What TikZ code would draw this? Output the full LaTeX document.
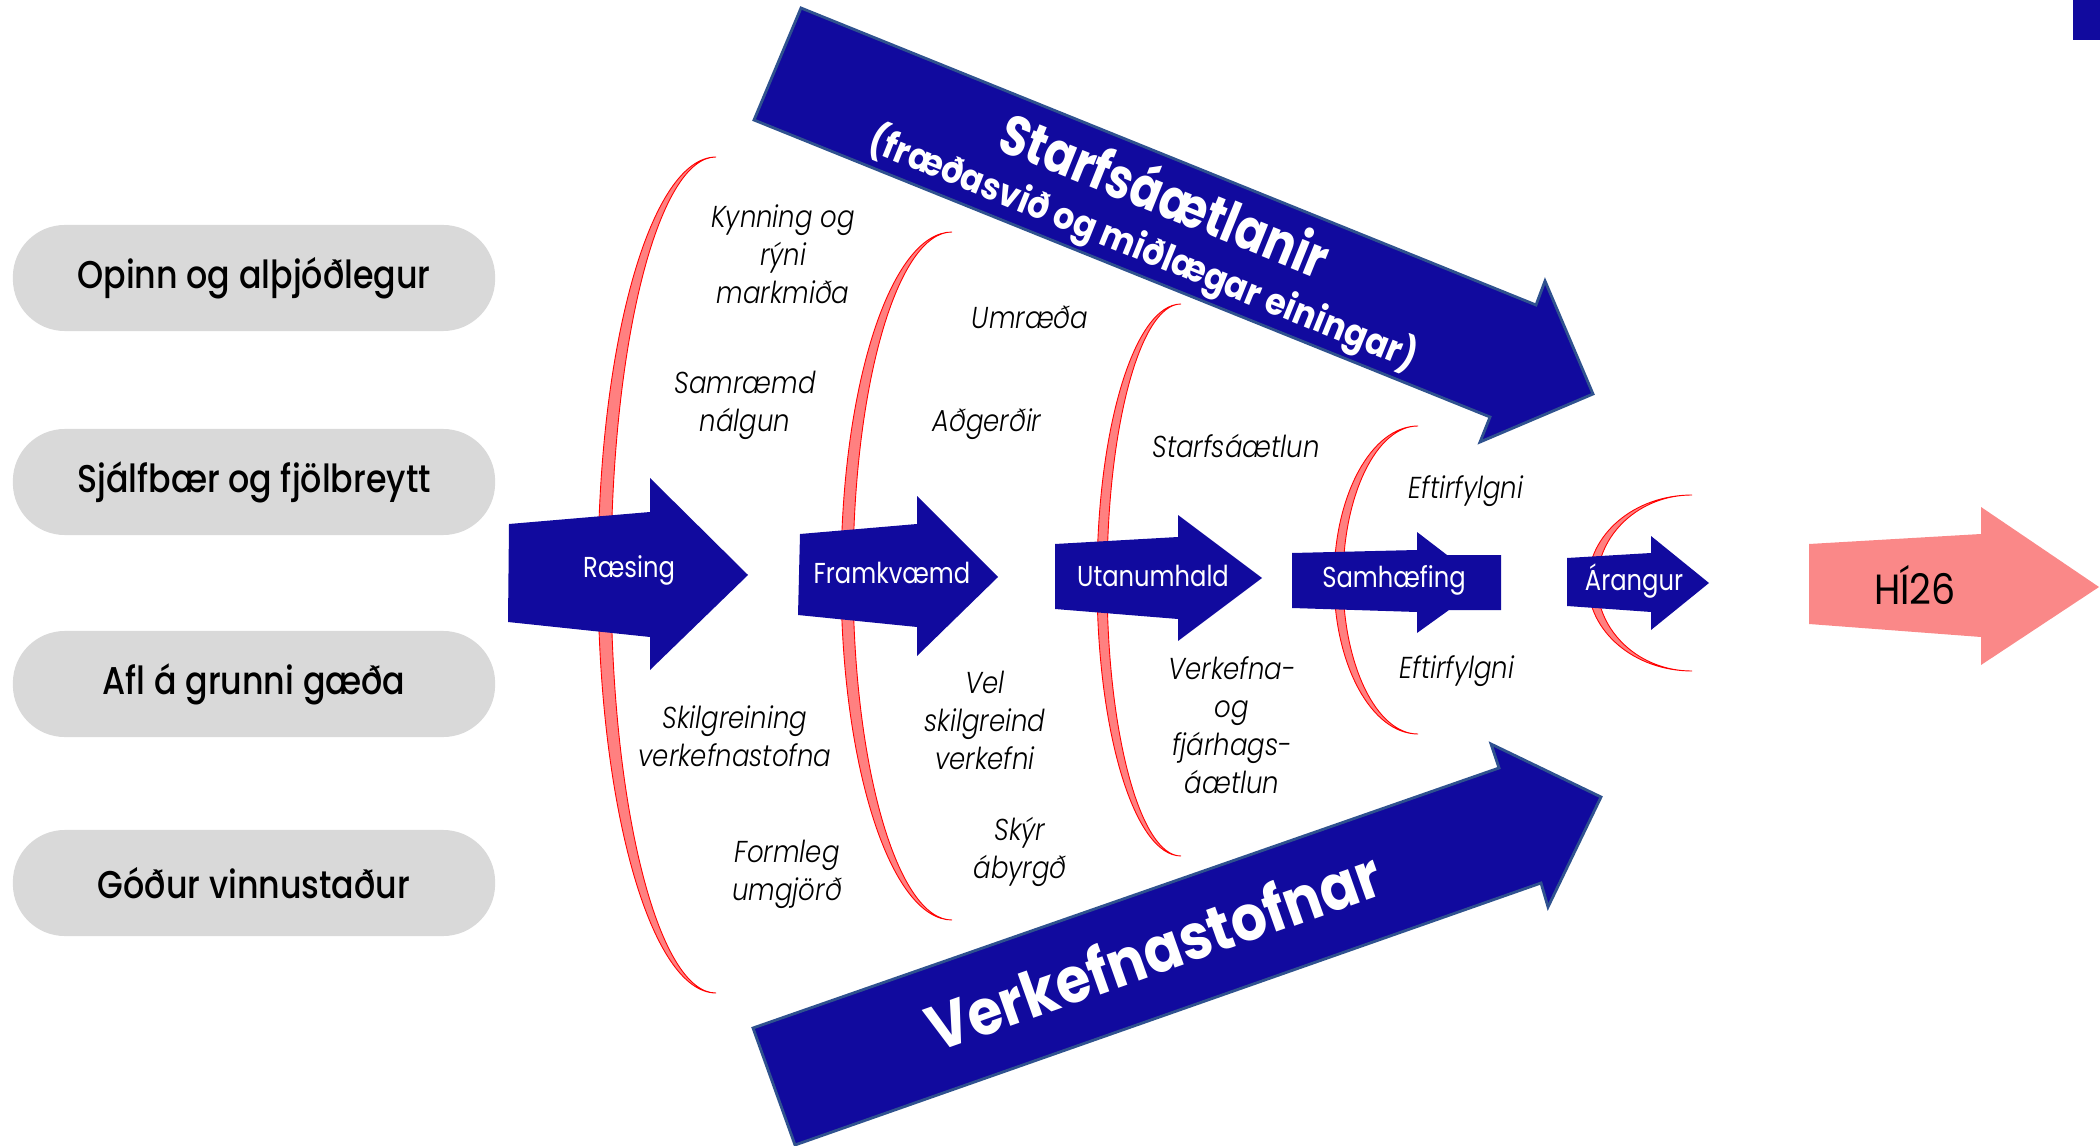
\documentclass[tikz,border=0pt]{standalone}
\usepackage{fontspec}
\setmainfont{Poppins}
\newfontfamily\pillfont{Poppins Medium}[FakeStretch=0.86]
\newfontfamily\lblfont{Poppins Light Italic}[FakeStretch=0.86]
\newfontfamily\stepfont{Poppins}[FakeStretch=0.84]
\newfontfamily\goalfont{Poppins}[FakeStretch=0.9]
\newfontfamily\bannerfont{Poppins Bold}[FakeStretch=0.82]
\newfontfamily\subbannerfont{Poppins Bold}[FakeStretch=0.9]
\newfontfamily\instfont{Poppins Bold}[FakeStretch=0.89]

\definecolor{hiblue}{RGB}{17,10,158}
\definecolor{edgeblue}{RGB}{47,82,143}
\definecolor{pinkfill}{RGB}{250,136,136}
\definecolor{bracketpink}{RGB}{255,128,128}
\definecolor{pillgray}{RGB}{217,217,217}

\tikzstyle{pill} = [rectangle, fill=pillgray, rounded corners=0.52cm,
    minimum width=4.82cm, minimum height=1.06cm, font=\pillfont\fontsize{11}{13}\selectfont]
\tikzstyle{steplbl} = [text=white, font=\stepfont\fontsize{8.2}{10}\selectfont]
\tikzstyle{lbl} = [align=center, font=\lblfont\fontsize{8.6}{10.8}\selectfont]
\tikzstyle{crescent} = [fill=bracketpink, draw=red, line width=0.25pt]
\tikzstyle{bigarrow} = [fill=hiblue, draw=edgeblue, line width=0.8pt]
\tikzstyle{chevron} = [fill=hiblue]
\tikzstyle{banner} = [text=white, font=\bannerfont\fontsize{16}{18}\selectfont]
\tikzstyle{subbanner} = [text=white, font=\subbannerfont\fontsize{10.5}{12}\selectfont]

% pink bracket: centre x, centre y, half height, outer and inner width
\newcommand{\bracketarc}[5]{%
  \draw[crescent] (#1,#2-#3) arc[start angle=-90, end angle=-270, x radius=#4, y radius=#3]
    arc[start angle=90, end angle=270, x radius=#5, y radius=#3] -- cycle;}

\begin{document}
\begin{tikzpicture}[x=0.01cm, y=-0.01cm]

    \useasboundingbox (0,0) rectangle (2100,1146);

    % Corner mark
    \fill[hiblue] (2073,0) rectangle (2100,40);

    % Pills
    \node [pill] (open) at (254,278) {Opinn og alþjóðlegur};
    \node [pill] (green) at (254,482) {Sjálfbær og fjölbreytt};
    \node [pill] (power) at (254,684) {Afl á grunni gæða};
    \node [pill] (work) at (254,883) {Góður vinnustaður};

    % Brackets
    \bracketarc{716}{575}{418}{118}{105}
    \bracketarc{952}{576}{344}{111}{99}
    \bracketarc{1181}{580}{276}{84}{74}
    \bracketarc{1418}{580}{154}{84}{75}
    \bracketarc{1692}{583}{88}{104}{95}

    % Big arrows
    \draw [bigarrow] (801,8) -- (1536,305) -- (1545,281) -- (1593,394)
        -- (1480,442) -- (1490,417) -- (754,120) -- cycle;
    \draw [bigarrow] (753,1028) -- (1499,768) -- (1491,744) -- (1601,797)
        -- (1548,907) -- (1541,883) -- (795,1145) -- cycle;

    % Steps
    \fill [chevron] (509,524) -- (650,512) -- (650,478) -- (748,575)
        -- (650,670) -- (650,637) -- (508,622) -- cycle;
    \fill [chevron] (800,534) -- (917,524) -- (917,496) -- (998,577)
        -- (917,656) -- (917,627) -- (798,615) -- cycle;
    \fill [chevron] (1055,544) -- (1178,537) -- (1178,515) -- (1262,578)
        -- (1178,641) -- (1178,619) -- (1055,609) -- cycle;
    \fill [chevron] (1292,553) -- (1417,550) -- (1417,532) -- (1447,555)
        -- (1501,555) -- (1501,610) -- (1449,610) -- (1417,633)
        -- (1417,612) -- (1292,608) -- cycle;
    \fill [chevron] (1567,558) -- (1651,553) -- (1651,536) -- (1709,583)
        -- (1651,630) -- (1651,612) -- (1567,606) -- cycle;
    \fill [pinkfill] (1809,544) -- (1981,534) -- (1981,507) -- (2099,587)
        -- (1981,665) -- (1981,637) -- (1809,624) -- cycle;

    % Step labels
    \node [steplbl] (start) at (629,570) {Ræsing};
    \node [steplbl] (exec) at (892,573) {Framkvæmd};
    \node [steplbl] (keep) at (1153,576) {Utanumhald};
    \node [steplbl] (align) at (1394,580) {Samhæfing};
    \node [steplbl] (result) at (1634,581) {Árangur};
    \node [font=\goalfont\fontsize{12}{14}\selectfont] (goal) at (1915,585) {HÍ26};

    % Banners
    \node [banner, rotate=-22] (plans) at (1166,193) {Starfsáætlanir};
    \node [subbanner, rotate=-22] (units) at (1143,249) {(fræðasvið og miðlægar einingar)};
    \node [banner, font=\instfont\fontsize{18}{20}\selectfont, rotate=19.5] (inst) at (1153,950) {Verkefnastofnar};

    % Labels above
    \node [lbl] (review) at (783,254) {Kynning og\\rýni\\markmiða};
    \node [lbl] (joint) at (745,405) {Samræmd\\nálgun};
    \node [lbl] (talk) at (1030,317) {Umræða};
    \node [lbl] (acts) at (987,424) {Aðgerðir};
    \node [lbl] (plan) at (1236,446) {Starfsáætlun};
    \node [lbl] (follow) at (1466,491) {Eftirfylgni};

    % Labels below
    \node [lbl] (define) at (735,736) {Skilgreining\\verkefnastofna};
    \node [lbl] (frame) at (787,874) {Formleg\\umgjörð};
    \node [lbl] (tasks) at (985,720) {Vel\\skilgreind\\verkefni};
    \node [lbl] (resp) at (1020,852) {Skýr\\ábyrgð};
    \node [lbl] (budget) at (1232,725) {Verkefna-\\og\\fjárhags-\\áætlun};
    \node [lbl] (follow2) at (1457,671) {Eftirfylgni};

\end{tikzpicture}
\end{document}
